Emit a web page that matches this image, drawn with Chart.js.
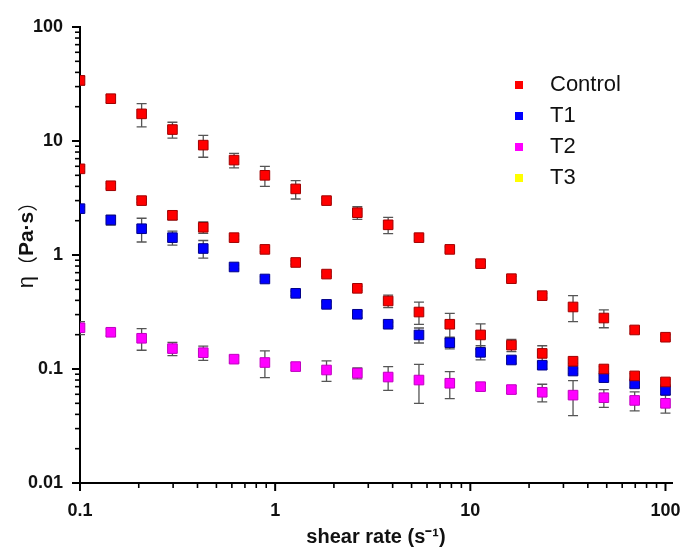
<!DOCTYPE html>
<html>
<head>
<meta charset="utf-8">
<script src="https://cdn.jsdelivr.net/npm/chart.js@4.4.0/dist/chart.umd.min.js"></script>
<style>
  html, body { margin:0; padding:0; background:#fff; }
  #wrap { width:682px; height:550px; position:relative; }
</style>
</head>
<body>
<div id="wrap"><canvas id="c"></canvas></div>
<script>
/* ── Data ──────────────────────────────────────────────────────── */
const shearRate = [0.1, 0.1438, 0.2069, 0.2976, 0.4281, 0.6158, 0.8859, 1.274, 1.833, 2.637,
                   3.793, 5.456, 7.848, 11.29, 16.24, 23.36, 33.6, 48.33, 69.52, 100];

const controlHi    = [34, 23.5, 17.3, 12.6, 9.2, 6.8, 5.0, 3.8, 3.0, 2.35, 1.84, 1.42, 1.12, 0.84, 0.62, 0.44, 0.35, 0.28, 0.22, 0.19];
const controlHiErr = [3, 1.8, 4, 2, 2, 1, 1, 0.7, 0.15, 0.3, 0.3, 0.08, 0.06, 0.04, 0.03, 0.02, 0.09, 0.05, 0.015, 0.01];

const controlLo    = [5.7, 4.05, 3.0, 2.23, 1.75, 1.42, 1.12, 0.86, 0.68, 0.51, 0.395, 0.316, 0.247, 0.199, 0.162, 0.137, 0.117, 0.1, 0.087, 0.077];
const controlLoErr = [0.3, 0.2, 0.1, 0.2, 0.2, 0.05, 0.05, 0.03, 0.03, 0.02, 0.05, 0.07, 0.06, 0.05, 0.02, 0.023, 0.005, 0.005, 0.004, 0.004];

const t1Vals = [2.55, 2.03, 1.70, 1.42, 1.14, 0.785, 0.616, 0.461, 0.369, 0.302, 0.247, 0.199, 0.17, 0.14, 0.12, 0.108, 0.096, 0.084, 0.074, 0.065];
const t1Err  = [0.1, 0.2, 0.4, 0.2, 0.2, 0.03, 0.03, 0.02, 0.02, 0.02, 0.01, 0.03, 0.02, 0.02, 0.008, 0.008, 0.005, 0.005, 0.005, 0.005];

const t2Vals = [0.23, 0.21, 0.186, 0.151, 0.139, 0.122, 0.114, 0.105, 0.098, 0.092, 0.085, 0.08, 0.075, 0.070, 0.066, 0.0625, 0.059, 0.056, 0.053, 0.050];
const t2Err  = [0.03, 0.015, 0.04, 0.02, 0.02, 0.008, 0.03, 0.008, 0.02, 0.01, 0.02, 0.03, 0.02, 0.005, 0.005, 0.011, 0.02, 0.01, 0.01, 0.009];

const t3Vals = [];   // listed in the legend, no points visible
const t3Err  = [];

const yTicks = [0.01, 0.1, 1, 10, 100];
const xTicks = [0.1, 1, 10, 100];

/* ── Helpers ───────────────────────────────────────────────────── */
const FONT = "'Liberation Sans', Arial, Helvetica, sans-serif";
const pts = vals => vals.map((v, i) => ({ x: shearRate[i], y: v }));
const isDecade = v => Math.abs(Math.log10(v) - Math.round(Math.log10(v))) < 1e-6;

function series(label, vals, err, fill, edge, legend = true) {
  return {
    label, data: pts(vals), err, legend,
    backgroundColor: fill, borderColor: edge, borderWidth: 1,
    pointStyle: 'rect', pointRadius: 6.8, pointHoverRadius: 6.8,
    clip: { left: 0, top: false, right: false, bottom: false }
  };
}

/* ── Plugins ───────────────────────────────────────────────────── */
const errorBars = {
  id: 'errorBars',
  beforeDatasetsDraw(chart) {
    const { ctx, chartArea: ca, scales: { x, y } } = chart;
    ctx.save();
    ctx.beginPath(); ctx.rect(ca.left, 0, chart.width, chart.height); ctx.clip();
    ctx.strokeStyle = '#555'; ctx.lineWidth = 1.3;
    chart.data.datasets.forEach(ds => {
      (ds.data || []).forEach((p, j) => {
        const e = ds.err[j]; if (!e) return;
        const px = x.getPixelForValue(p.x);
        const t = y.getPixelForValue(p.y + e), b = y.getPixelForValue(p.y - e);
        ctx.beginPath();
        ctx.moveTo(px, t); ctx.lineTo(px, b);
        ctx.moveTo(px - 5, t); ctx.lineTo(px + 5, t);
        ctx.moveTo(px - 5, b); ctx.lineTo(px + 5, b);
        ctx.stroke();
      });
    });
    ctx.restore();
  }
};

const axisDecor = {
  id: 'axisDecor',
  afterDraw(chart) {
    const { ctx, chartArea: ca, scales: { x, y } } = chart;
    ctx.save();
    ctx.strokeStyle = '#000';
    // minor / major tick marks, pointing outward
    x.ticks.forEach(t => {
      const m = t.value / Math.pow(10, Math.floor(Math.log10(t.value) + 1e-9));
      if (Math.abs(m - Math.round(m)) > 1e-6 || t.value > 100.0001) return;
      const major = isDecade(t.value), px = x.getPixelForValue(t.value);
      ctx.lineWidth = major ? 2 : 1.6;
      ctx.beginPath(); ctx.moveTo(px, ca.bottom); ctx.lineTo(px, ca.bottom + (major ? 8 : 5)); ctx.stroke();
    });
    y.ticks.forEach(t => {
      const m = t.value / Math.pow(10, Math.floor(Math.log10(t.value) + 1e-9));
      if (Math.abs(m - Math.round(m)) > 1e-6) return;
      const major = isDecade(t.value), py = y.getPixelForValue(t.value);
      ctx.lineWidth = major ? 2 : 1.6;
      ctx.beginPath(); ctx.moveTo(ca.left, py); ctx.lineTo(ca.left - (major ? 8 : 5), py); ctx.stroke();
    });

    // y-axis title: η（Pa·s）, mixed weights
    ctx.translate(27, 240);
    ctx.rotate(-Math.PI / 2);
    ctx.fillStyle = '#111';
    ctx.textBaseline = 'middle';
    const parts = [
      ['η', `22px ${FONT}`],
      ['（', `20px 'Noto Sans CJK SC', ${FONT}`],
      ['Pa·s', `bold 21px ${FONT}`],
      ['）', `20px 'Noto Sans CJK SC', ${FONT}`]
    ];
    let w = 0;
    parts.forEach(([s, f]) => { ctx.font = f; w += ctx.measureText(s).width; });
    let cx = -w / 2;
    parts.forEach(([s, f]) => { ctx.font = f; ctx.fillText(s, cx, 0); cx += ctx.measureText(s).width; });
    ctx.restore();

    // legend inside the plot, top right
    ctx.save();
    ctx.textBaseline = 'middle';
    ctx.font = `22px ${FONT}`;
    let row = 0;
    chart.data.datasets.forEach(ds => {
      if (!ds.legend) return;
      const ly = 85 + row * 31;
      ctx.fillStyle = ds.backgroundColor;
      ctx.fillRect(515, ly - 4, 8, 8);
      ctx.fillStyle = '#111';
      ctx.fillText(ds.label, 550, ly);
      row++;
    });
    ctx.restore();
  }
};

/* ── Chart ─────────────────────────────────────────────────────── */
Chart.defaults.font.family = FONT;
Chart.defaults.color = '#111';

new Chart(document.getElementById('c'), {
  type: 'scatter',
  data: {
    datasets: [
      series('Control', controlHi, controlHiErr, '#FF0000', '#A00000'),
      series('Control ', controlLo, controlLoErr, '#FF0000', '#A00000', false),
      series('T1', t1Vals, t1Err, '#0000FF', '#00008A'),
      series('T2', t2Vals, t2Err, '#FF00FF', '#C000C0'),
      series('T3', t3Vals, t3Err, '#FFFF00', '#C0C000')
    ]
  },
  options: {
    responsive: true, maintainAspectRatio: false, animation: false,
    layout: { padding: { top: 27, right: 10, left: 0, bottom: 0 } },
    plugins: { legend: { display: false }, tooltip: { enabled: false } },
    scales: {
      x: {
        type: 'logarithmic', min: 0.1, max: 108,
        grid: { display: false },
        border: { display: true, color: '#000', width: 2 },
        ticks: {
          autoSkip: false, maxRotation: 0, padding: 9,
          font: { size: 18, weight: 'bold' },
          callback: v => xTicks.some(t => Math.abs(t - v) < 1e-9) ? String(v) : ''
        },
        title: { display: true, text: 'shear rate (s⁻¹)', font: { size: 20, weight: 'bold' }, padding: { top: 0, bottom: 1 } },
        afterFit: s => { s.height = 67; }
      },
      y: {
        type: 'logarithmic', min: 0.01, max: 100,
        grid: { display: false },
        border: { display: true, color: '#000', width: 2 },
        ticks: {
          autoSkip: false, padding: 9,
          font: { size: 18, weight: 'bold' },
          callback: v => yTicks.some(t => Math.abs(t - v) < 1e-9) ? String(v) : ''
        },
        afterFit: s => { s.width = 80; }
      }
    }
  },
  plugins: [errorBars, axisDecor]
});
</script>
</body>
</html>
